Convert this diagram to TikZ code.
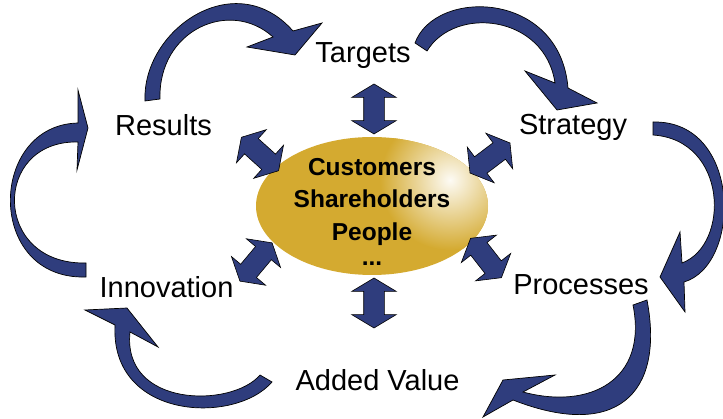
\documentclass[tikz,border=0pt]{standalone}
\usepackage{fontspec}
\setmainfont{Liberation Sans}
\usetikzlibrary{shapes.arrows}
\definecolor{navy}{RGB}{47,61,125}
\definecolor{gold}{RGB}{212,170,48}
\tikzset{
  swoosh/.style={fill=navy, draw=black, line width=0.7pt, line join=miter},
  bidir/.style={double arrow, fill=navy, draw=black, line width=0.6pt,
    inner sep=0pt, inner ysep=10pt, double arrow head extend=12pt,
    double arrow tip angle=118, minimum height=50pt},
  stage/.style={inner sep=0pt, anchor=base, font=\fontsize{29}{34}\selectfont},
  hub/.style={align=center, inner sep=0pt, font=\bfseries\fontsize{24.5}{32.5}\selectfont}
}
\begin{document}
\begin{tikzpicture}[x=1pt,y=-1pt]
  \useasboundingbox (0,0) rectangle (723,419);
  % golden centre
  \fill[gold] (372,206) ellipse [x radius=116, y radius=69];
  \begin{scope}
    \clip (372,206) ellipse [x radius=116, y radius=69];
    \shade[inner color=gold!5!white, outer color=gold] (450,180) circle (70pt);
  \end{scope}
  \node[hub] (hub) at (372,212) {Customers\\Shareholders\\People\\[-7pt]...};

  \node[stage] (targets) at (363,63) {Targets};
  \node[stage] (strategy) at (573,135) {Strategy};
  \node[stage] (results) at (163.5,136) {Results};
  \node[stage] (innov) at (166.5,298) {Innovation};
  \node[stage] (proc) at (581,295) {Processes};
  \node[stage] (added) at (377.5,391) {Added Value};

  % two-way arrows round the centre
  \node[bidir, rotate=90] (toTargets) at (374,109) {};
  \node[bidir, rotate=90] (toAdded) at (374,303) {};
  \node[bidir, rotate=37] (toStrategy) at (490,158) {};
  \node[bidir, rotate=-52] (toProc) at (486,258) {};
  \node[bidir, rotate=-42] (toResults) at (260,154) {};
  \node[bidir, rotate=50] (toInnov) at (256,262) {};

  % the cycle
  \draw[swoosh] (145,101) .. controls (142,30) and (235,-35) .. (293,31)
    -- (322,23) -- (295,55) -- (247,47) -- (273,37)
    .. controls (230,-2) and (158,30) .. (160,99) -- cycle;
  \draw[swoosh] (415,43) .. controls (435,-12) and (560,-10) .. (568,88)
    -- (597,103) -- (557,110) -- (525,71) -- (555,83)
    .. controls (545,15) and (455,5) .. (427,51) -- cycle;
  \draw[swoosh] (653,122) .. controls (742,120) and (742,265) .. (684,282)
    -- (685,312) -- (660,277) -- (680,232) -- (682,263)
    .. controls (730,245) and (728,140) .. (653,135) -- cycle;
  \draw[swoosh] (647,300) .. controls (665,395) and (615,440) .. (513,400)
    -- (483,417) -- (503,380) -- (555,375) -- (523,392)
    .. controls (590,410) and (648,380) .. (633,305) -- cycle;
  \draw[swoosh] (272,382) .. controls (235,425) and (110,420) .. (115,325)
    -- (85,310) -- (127,308) -- (158,347) -- (130,332)
    .. controls (122,408) and (232,408) .. (260,375) -- cycle;
  \draw[swoosh] (86,263) .. controls (-8,265) and (-8,140) .. (78,142)
    -- (77,170) -- (88,128) -- (78,90) -- (78,123)
    .. controls (-12,125) and (-15,280) .. (86,277) -- cycle;
\end{tikzpicture}
\end{document}
